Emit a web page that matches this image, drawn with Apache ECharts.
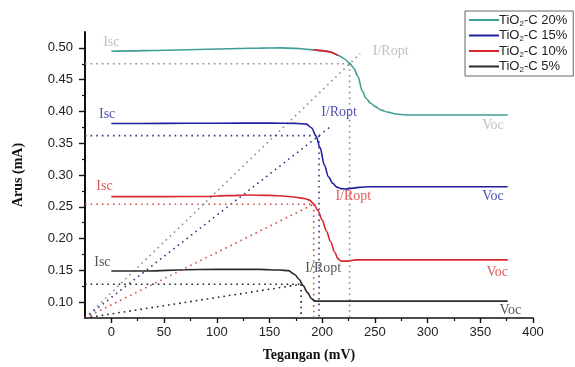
<!DOCTYPE html>
<html>
<head>
<meta charset="utf-8">
<script src="https://cdn.jsdelivr.net/npm/echarts@6/dist/echarts.min.js"></script>
<style>
  html, body { margin: 0; padding: 0; background: #fff; }
  #chart { width: 575px; height: 367px; }
</style>
</head>
<body>
<div id="chart"></div>
<script>
// I-V curves (V in mV, I in mA)
var names = ['TiO2-C 20%', 'TiO2-C 15%', 'TiO2-C 10%', 'TiO2-C 5%'];

var v20 = [0, 20, 40, 60, 80, 100, 120, 140, 160, 175, 185, 192, 200, 208, 215, 221, 226, 230, 234, 238, 242, 246, 250, 256, 262, 270, 280, 300, 376];
var i20 = [0.4947, 0.4953, 0.4960, 0.4967, 0.4975, 0.4982, 0.4990, 0.4997, 0.5000, 0.4993, 0.4978, 0.4968, 0.4955, 0.4935, 0.4885, 0.4830, 0.4760, 0.4680, 0.4550, 0.4320, 0.4200, 0.4130, 0.4080, 0.4020, 0.3990, 0.3960, 0.3945, 0.3945, 0.3945];

var v15 = [0, 50, 100, 150, 175, 185, 190, 194, 198, 202, 206, 210, 214, 218, 222, 228, 235, 245, 260, 376];
var i15 = [0.3810, 0.3812, 0.3815, 0.3816, 0.3812, 0.3800, 0.3740, 0.3620, 0.3430, 0.3160, 0.2970, 0.2870, 0.2810, 0.2785, 0.2780, 0.2790, 0.2805, 0.2815, 0.2815, 0.2815];

var v10 = [0, 50, 90, 110, 130, 150, 165, 175, 183, 188, 192, 196, 200, 204, 208, 212, 215, 218, 224, 232, 376];
var i10 = [0.2660, 0.2660, 0.2662, 0.2675, 0.2685, 0.2680, 0.2665, 0.2650, 0.2630, 0.2605, 0.2545, 0.2440, 0.2290, 0.2120, 0.1950, 0.1780, 0.1680, 0.1645, 0.1645, 0.1665, 0.1665];

var v5 = [0, 35, 70, 100, 140, 160, 168, 174, 178, 182, 186, 190, 193, 376];
var i5 = [0.1490, 0.1490, 0.1510, 0.1515, 0.1515, 0.1505, 0.1495, 0.1435, 0.1360, 0.1260, 0.1150, 0.1055, 0.1015, 0.1015];

// maximum power points (I/Ropt) and where each diagonal ends
var vOpt = [226, 197, 192, 180];
var iOpt = [0.475, 0.362, 0.254, 0.128];
var vDiagEnd = [236, 207, 192, 180];

// stretch of the 20% curve drawn in red
var redFrom = 192, redTo = 215;

var xTicks = [0, 50, 100, 150, 200, 250, 300, 350, 400];
var xMinor = [25, 75, 125, 175, 225, 275, 325, 375];
var yTicks = [0.10, 0.15, 0.20, 0.25, 0.30, 0.35, 0.40, 0.45, 0.50];
var yMinor = [0.125, 0.175, 0.225, 0.275, 0.325, 0.375, 0.425, 0.475];

var xMin = -25, xMax = 400, yMin = 0.075, yMax = 0.525;

var curveColors = ['#3f9e95', '#1f1fa0', '#d8282e', '#2a2a2a'];
var dotColors = ['#8c8c9c', '#3a3a80', '#d05050', '#222222'];
var noteColors = ['#b0b0b0', '#2424a0', '#d83030', '#2a2a2a'];

function pairs(vs, is) {
  return vs.map(function (v, k) { return [v, is[k]]; });
}

var curves = [pairs(v20, i20), pairs(v15, i15), pairs(v10, i10), pairs(v5, i5)];

var series = [];

// dotted construction lines
curves.forEach(function (c, k) {
  var ls = { color: dotColors[k], width: 1.6, type: [1.6, 4] };
  var slope = (iOpt[k] - yMin) / (vOpt[k] - xMin);
  [
    [[xMin, iOpt[k]], [vOpt[k], iOpt[k]]],
    [[vOpt[k], iOpt[k]], [vOpt[k], yMin]],
    [[xMin, yMin], [vDiagEnd[k], yMin + slope * (vDiagEnd[k] - xMin)]]
  ].forEach(function (seg) {
    series.push({
      type: 'line', data: seg, symbol: 'none', silent: true,
      lineStyle: ls, z: 1
    });
  });
});

curves.forEach(function (c, k) {
  series.push({
    name: names[k], type: 'line', data: c, symbol: 'none',
    smooth: 0.3, smoothMonotone: 'x',
    lineStyle: { color: curveColors[k], width: 1.6 },
    itemStyle: { color: curveColors[k] }, z: 3
  });
});

series.push({
  type: 'line', symbol: 'none', smooth: 0.3, silent: true, z: 4,
  data: curves[0].filter(function (p) { return p[0] >= redFrom && p[0] <= redTo; }),
  lineStyle: { color: '#d8282e', width: 1.8 }
});

// text notes (data coordinates)
var notes = [
  ['Isc', 0, 0.508, 0], ['Isc', -4, 0.396, 1], ['Isc', -6.5, 0.2815, 2], ['Isc', -8.5, 0.162, 3],
  ['I/Ropt', 265, 0.494, 0], ['I/Ropt', 216, 0.399, 1], ['I/Ropt', 229.5, 0.266, 2], ['I/Ropt', 201, 0.153, 3],
  ['Voc', 362, 0.378, 0], ['Voc', 362, 0.266, 1], ['Voc', 366, 0.1475, 2], ['Voc', 378.5, 0.0867, 3]
];
series.push({
  type: 'scatter', silent: true, symbol: 'circle', symbolSize: 1, z: 5,
  itemStyle: { color: 'transparent' },
  data: notes.map(function (n) {
    return {
      name: n[0], value: [n[1], n[2]],
      label: { color: noteColors[n[3]] }
    };
  }),
  label: {
    show: true, position: 'inside', formatter: '{b}',
    fontFamily: 'Liberation Serif', fontSize: 14
  }
});

var sansFont = 'Liberation Sans';
var serifFont = 'Liberation Serif';

var option = {
  animation: false,
  backgroundColor: '#fff',
  grid: { left: 85, right: 42, top: 32, bottom: 45, containLabel: false },
  legend: {
    data: names, orient: 'vertical', left: 465, top: 11,
    icon: 'rect', itemWidth: 30, itemHeight: 2, itemGap: 1,
    padding: [2, 6, 2, 4],
    borderColor: '#666', borderWidth: 1, backgroundColor: '#fff',
    formatter: function (n) { return n.replace('TiO2', 'TiO{sub|2}'); },
    textStyle: {
      fontFamily: sansFont, fontSize: 13, color: '#222', padding: [0, 0, 0, -5], lineHeight: 14,
      rich: { sub: { fontFamily: sansFont, fontSize: 8, color: '#222', padding: [7, 0, 0, 0] } }
    }
  },
  xAxis: [{
    type: 'value', min: xMin, max: xMax,
    name: 'Tegangan (mV)', nameLocation: 'middle', nameGap: 30,
    nameTextStyle: { fontFamily: serifFont, fontWeight: 'bold', fontSize: 14, color: '#111' },
    axisLine: { onZero: false, lineStyle: { color: '#111', width: 1.6 } },
    axisTick: { customValues: xTicks, length: 5, lineStyle: { color: '#111', width: 1.4 } },
    axisLabel: { customValues: xTicks, fontFamily: sansFont, fontSize: 13, color: '#222', margin: 8 },
    splitLine: { show: false }
  }, {
    type: 'value', min: xMin, max: xMax, position: 'bottom',
    axisLine: { show: false, onZero: false },
    axisTick: { customValues: xMinor, length: 3, lineStyle: { color: '#111', width: 1.2 } },
    axisLabel: { show: false },
    splitLine: { show: false }
  }],
  yAxis: [{
    type: 'value', min: yMin, max: yMax,
    name: 'Arus (mA)', nameLocation: 'middle', nameGap: 60,
    nameTextStyle: { fontFamily: serifFont, fontWeight: 'bold', fontSize: 14, color: '#111' },
    axisLine: { onZero: false, lineStyle: { color: '#111', width: 2 } },
    axisTick: { customValues: yTicks, length: 6, lineStyle: { color: '#111', width: 1.4 } },
    axisLabel: {
      customValues: yTicks, fontFamily: sansFont, fontSize: 13, color: '#222', margin: 12,
      formatter: function (v) { return v.toFixed(2); }
    },
    splitLine: { show: false }
  }, {
    type: 'value', min: yMin, max: yMax, position: 'left',
    axisLine: { show: false, onZero: false },
    axisTick: { customValues: yMinor, length: 3, lineStyle: { color: '#111', width: 1.2 } },
    axisLabel: { show: false },
    splitLine: { show: false }
  }],
  series: series
};

var chart = echarts.init(document.getElementById('chart'));
chart.setOption(option);
</script>
</body>
</html>
